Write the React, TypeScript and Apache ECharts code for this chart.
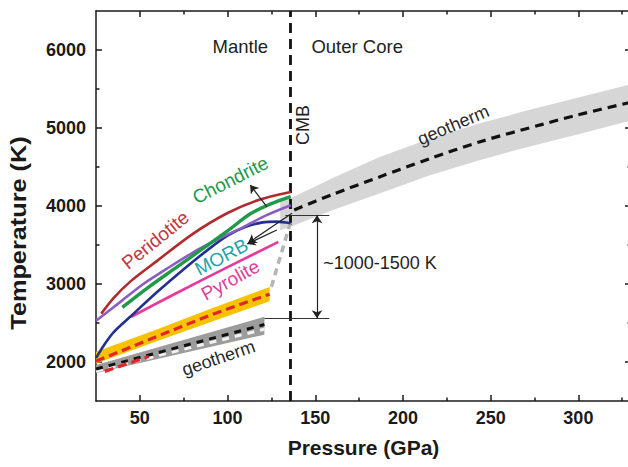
import React, { useEffect, useRef } from "react";
import * as echarts from "echarts";

// ---- axis ticks ----
const xMajorTicks = [50, 100, 150, 200, 250, 300];
const xMinorTicks = [75, 125, 175, 225, 275, 325];
const yMajorTicks = [2000, 3000, 4000, 5000, 6000];
const yMinorTicks = [2500, 3500, 4500, 5500];

const cmbPressure = 136;

// ---- melting curves [P (GPa), T (K)] ----
const peridotite = [[28, 2620], [35, 2820], [45, 3040], [60, 3300], [80, 3640], [100, 3910], [118, 4080], [136, 4180]];
const chondrite = [[40, 2700], [55, 2960], [70, 3200], [85, 3440], [100, 3680], [113, 3900], [125, 4030], [136, 4120]];
const purpleCurve = [[25, 2530], [40, 2790], [52, 3000], [65, 3190], [80, 3400], [95, 3580], [109, 3730], [122, 3880], [136, 4010]];
const morbCurve = [[25, 2050], [30, 2230], [35, 2380], [45, 2590], [60, 2900], [75, 3190], [90, 3460], [100, 3620], [110, 3730], [120, 3790], [128, 3800], [136, 3780]];
const pyrolite = [[45, 2580], [87, 3070], [129, 3540]];

// ---- mantle solidus band (yellow) ----
const solidusUpper = [[25, 2130], [60, 2420], [90, 2680], [124, 2960]];
const solidusLower = [[25, 1980], [60, 2270], [90, 2510], [124, 2780]];
const solidusMid = [[25, 2010], [60, 2330], [90, 2600], [124, 2870]];
const solidusLow = [[30, 1880], [55, 2070]];

// ---- mantle geotherm band (grey) ----
const mantleGeoUpper = [[25, 1960], [121, 2580]];
const mantleGeoLower = [[25, 1860], [121, 2350]];
const mantleGeotherm = [[25, 1910], [121, 2480]];
const mantleGeoWhite = [[25, 1885], [121, 2420]];
const boundaryLayer = [[125, 2965], [136, 3800]];

// ---- core geotherm ----
const coreGeotherm = [[138, 3950], [160, 4150], [187, 4376], [215, 4605], [244, 4824], [280, 5050], [300, 5170], [330, 5330]];
const coreBandUpper = [[130, 4060], [136, 4100], [160, 4360], [187, 4632], [215, 4860], [244, 5060], [270, 5220], [300, 5390], [330, 5560]];
const coreBandLower = [[130, 3690], [136, 3735], [160, 3950], [187, 4162], [215, 4390], [244, 4590], [270, 4750], [300, 4920], [330, 5095]];

// ---- annotations ----
const gapTop = 3880;
const gapBottom = 2560;
const gapArrowP = 151;
const gapTopLine = [[133, gapTop], [158, gapTop]];
const gapBottomLine = [[121, gapBottom], [158, gapBottom]];
const arrowUp = [[122.4, 3991], [112.9, 4269]];
const arrowDown1 = [[136.7, 3906], [111.8, 3526]];
const arrowDown2 = [[128.1, 3692], [111.2, 3513]];

const FONT = "Liberation Sans, Arial, Helvetica, sans-serif";
const AX = "#1a1a1a";

const textLabels = [
  { text: "Peridotite", at: [58.8, 3564], rot: 39, color: "#c0383e", size: 19 },
  { text: "Chondrite", at: [101.6, 4333], rot: 27, color: "#1f9a48", size: 19 },
  { text: "MORB", at: [96.5, 3346], rot: 28, color: "#23a3aa", size: 19 },
  { text: "Pyrolite", at: [101.6, 3051], rot: 29, color: "#e0409b", size: 19 },
  { text: "geotherm", at: [94.8, 2051], rot: 19, color: "#2a2a2a", size: 18 },
  { text: "geotherm", at: [228.7, 5038], rot: 23, color: "#2a2a2a", size: 18 },
  { text: "Mantle", at: [107.3, 6051], rot: 0, color: "#222", size: 18.5 },
  { text: "Outer Core", at: [173.9, 6051], rot: 0, color: "#222", size: 18.5 },
  { text: "CMB", at: [143.1, 5038], rot: 90, color: "#222", size: 18 },
];
const gapLabel = { text: "~1000-1500 K", at: [154.5, 3263] };

function band(upper: number[][], lower: number[][], fill: string, z: number) {
  return {
    type: "custom",
    xAxisIndex: 0,
    yAxisIndex: 0,
    silent: true,
    z,
    data: [upper[0]],
    renderItem: (_params: any, api: any) => {
      const pts = upper.map((p) => api.coord(p)).concat(lower.slice().reverse().map((p) => api.coord(p)));
      return { type: "polygon", shape: { points: pts }, style: { fill } };
    },
  };
}

function curve(data: number[][], color: string, width: number, z: number, dash?: any, smooth: any = 0.3) {
  return {
    type: "line",
    data,
    xAxisIndex: 0,
    yAxisIndex: 0,
    showSymbol: false,
    symbol: "none",
    smooth,
    silent: true,
    z,
    lineStyle: { color, width, type: dash || "solid", cap: "butt" },
  };
}

function arrowLines(list: number[][][], both: boolean, z: number, color = "#222") {
  return {
    type: "lines",
    coordinateSystem: "cartesian2d",
    xAxisIndex: 0,
    yAxisIndex: 0,
    silent: true,
    z,
    symbol: both ? ["arrow", "arrow"] : ["none", "arrow"],
    symbolSize: 8,
    lineStyle: { color, width: 1.2, opacity: 1 },
    data: list.map((c) => ({ coords: c })),
  };
}

function plainLines(list: number[][][], z: number) {
  return {
    type: "lines",
    coordinateSystem: "cartesian2d",
    xAxisIndex: 0,
    yAxisIndex: 0,
    silent: true,
    z,
    symbol: ["none", "none"],
    lineStyle: { color: "#333", width: 1.2, opacity: 1 },
    data: list.map((c) => ({ coords: c })),
  };
}

const plainNum = (v: number) => String(v);

function xAx(pos: "top" | "bottom", ticks: number[], len: number, main: boolean) {
  return {
    type: "value",
    min: 25,
    max: 330,
    position: pos,
    axisLine: { show: main, onZero: false, lineStyle: { color: AX, width: 1.5 } },
    axisTick: { show: true, inside: true, length: len, customValues: ticks, lineStyle: { color: AX, width: 1.5 } },
    axisLabel: pos === "bottom" && main
      ? { show: true, customValues: ticks, formatter: plainNum, fontSize: 18, fontWeight: "bold", color: AX, fontFamily: FONT, margin: 8 }
      : { show: false },
    splitLine: { show: false },
    ...(pos === "bottom" && main
      ? { name: "Pressure (GPa)", nameLocation: "middle", nameGap: 36, nameTextStyle: { fontSize: 21, fontWeight: "bold", color: AX, fontFamily: FONT } }
      : {}),
  };
}

function yAx(pos: "left" | "right", ticks: number[], len: number, main: boolean) {
  return {
    type: "value",
    min: 1500,
    max: 6500,
    position: pos,
    axisLine: { show: main, onZero: false, lineStyle: { color: AX, width: 1.5 } },
    axisTick: { show: true, inside: true, length: len, customValues: ticks, lineStyle: { color: AX, width: 1.5 } },
    axisLabel: pos === "left" && main
      ? { show: true, customValues: ticks, formatter: plainNum, fontSize: 18, fontWeight: "bold", color: AX, fontFamily: FONT, margin: 10 }
      : { show: false },
    splitLine: { show: false },
  };
}

export default function App() {
  const ref = useRef<HTMLDivElement>(null);
  useEffect(() => {
    if (!ref.current) return;
    const chart = echarts.init(ref.current, undefined, { renderer: "svg" });
    const option: any = {
      animation: false,
      backgroundColor: "#fff",
      grid: { left: 96, top: 11, width: 535, height: 390, containLabel: false },
      xAxis: [
        xAx("bottom", xMajorTicks, 6, true),
        xAx("bottom", xMinorTicks, 3.5, false),
        xAx("top", xMajorTicks, 6, true),
        xAx("top", xMinorTicks, 3.5, false),
      ],
      yAxis: [
        yAx("left", yMajorTicks, 6, true),
        yAx("left", yMinorTicks, 3.5, false),
        yAx("right", yMajorTicks, 6, true),
        yAx("right", yMinorTicks, 3.5, false),
      ],
      series: [
        band(coreBandUpper, coreBandLower, "#d6d6d6", 1),
        band(solidusUpper, solidusLower, "#f7c300", 2),
        band(mantleGeoUpper, mantleGeoLower, "#9c9c9c", 3),
        curve(mantleGeoWhite, "#f2f2f2", 3, 4, [7, 6], false),
        curve(mantleGeotherm, "#111", 3, 5, [7, 6], false),
        curve(solidusMid, "#e3242b", 3.2, 6, [9, 5], false),
        curve(solidusLow, "#e3242b", 3.2, 6, [9, 5], false),
        curve(boundaryLayer, "#b5b5b5", 3.5, 5, [7, 5], false),
        curve(coreGeotherm, "#111", 3.2, 6, [9, 6]),
        curve(pyrolite, "#e8389b", 2.6, 7),
        curve(morbCurve, "#24308f", 2.6, 8),
        curve(purpleCurve, "#8a5cc4", 2.6, 8),
        curve(chondrite, "#1f9a48", 3.4, 9),
        curve(peridotite, "#b02a2e", 2.6, 9),
        {
          type: "line",
          data: [],
          xAxisIndex: 0,
          yAxisIndex: 0,
          silent: true,
          z: 10,
          markLine: {
            silent: true,
            symbol: ["none", "none"],
            label: { show: false },
            lineStyle: { color: "#111", width: 2.8, type: [10, 6] },
            data: [{ xAxis: cmbPressure }],
          },
        },
        plainLines([gapTopLine, gapBottomLine], 11),
        arrowLines([[[gapArrowP, gapBottom], [gapArrowP, gapTop]]], true, 11),
        arrowLines([arrowUp, arrowDown1, arrowDown2], false, 11),
      ],
    };
    chart.setOption(option);

    const graphics: any[] = textLabels.map((l) => {
      const [x, y] = chart.convertToPixel({ gridIndex: 0 }, l.at as any) as number[];
      return {
        type: "text",
        x,
        y,
        rotation: (l.rot * Math.PI) / 180,
        z: 20,
        silent: true,
        style: { text: l.text, fill: l.color, fontSize: l.size, fontFamily: FONT, align: "center", verticalAlign: "middle" },
      };
    });
    const [gx, gy] = chart.convertToPixel({ gridIndex: 0 }, gapLabel.at as any) as number[];
    graphics.push({
      type: "text",
      x: gx,
      y: gy,
      z: 20,
      silent: true,
      style: { text: gapLabel.text, fill: "#222", fontSize: 18, fontFamily: FONT, align: "left", verticalAlign: "middle" },
    });
    graphics.push({
      type: "text",
      x: 19,
      y: 233,
      rotation: Math.PI / 2,
      scaleX: 1.15,
      z: 20,
      silent: true,
      style: { text: "Temperature (K)", fill: AX, fontSize: 22, fontWeight: "bold", fontFamily: FONT, align: "center", verticalAlign: "middle" },
    });
    chart.setOption({ graphic: graphics });

    return () => chart.dispose();
  }, []);
  return <div ref={ref} style={{ position: "fixed", left: 0, top: 0, width: 640, height: 467, background: "#fff" }} />;
}
